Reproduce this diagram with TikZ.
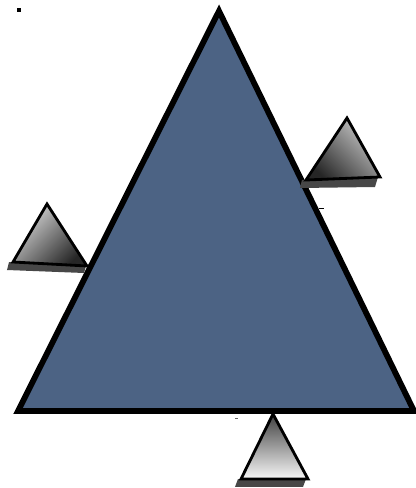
\documentclass[tikz,border=0pt]{standalone}
\usetikzlibrary{calc}
\definecolor{slate}{RGB}{76,99,132}
\tikzset{
  bigtri/.style={fill=slate, draw=black, line width=3.3pt, line join=miter},
  smalltri/.style={draw=black, line width=1.6pt, line join=miter},
  shadowband/.style={fill=black!72, draw=none},
}
\begin{document}
\begin{tikzpicture}[x=0.02cm, y=0.02cm]
    \useasboundingbox (0,0) rectangle (416,488);
    \fill[white] (0,0) rectangle (416,488);

    % large triangle
    \draw[bigtri] (219,477) -- (18,77) -- (414,77) -- cycle;

    % right small triangle with its shadow
    \fill[shadowband] (302,308) -- (378,311) -- (375,301) -- (300,300) -- cycle;
    \draw[smalltri, top color=black!20, bottom color=black!85, shading angle=-45]
      (347,370) -- (306,308) -- (380,311) -- cycle;

    % left small triangle with its shadow
    \fill[shadowband] (9,226) -- (86,222) -- (84,215) -- (7,218) -- cycle;
    \draw[smalltri, top color=black!15, bottom color=black!85, shading angle=45]
      (47,284) -- (13,226) -- (87,222) -- cycle;

    % bottom small triangle with its shadow
    \fill[shadowband] (238,9) -- (306,9) -- (303,1) -- (235,1) -- cycle;
    \draw[smalltri, top color=black!75, bottom color=black!3]
      (273,74) -- (241,9) -- (308,9) -- cycle;

    % stray marks
    \fill[black] (17,476) rectangle (21,480);
    \fill[black!60] (235,69) rectangle (238,70);
    \fill[black] (319,279) rectangle (324,280.5);
  \end{tikzpicture}
\end{document}
